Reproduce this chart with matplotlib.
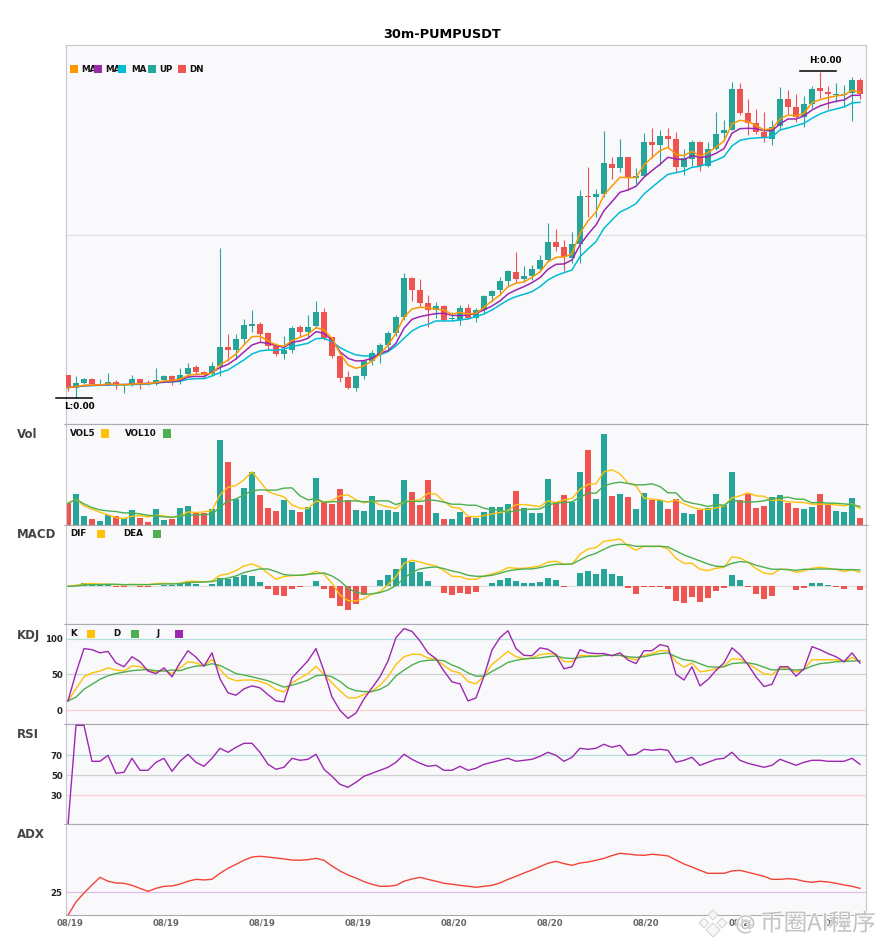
import matplotlib
matplotlib.use('Agg')
import matplotlib.pyplot as plt
import matplotlib.patheffects as pe
from matplotlib.lines import Line2D
from matplotlib.patches import Rectangle, Polygon
from matplotlib.transforms import ScaledTranslation
import numpy as np

W, H = 885, 950

opens = [147,109,123,135,117,120,126,117,120,135,
         122,120,132,144,132,150,171,156,150,174,
         231,222,255,294,300,273,234,210,222,291,
         276,294,336,261,204,141,108,144,189,210,
         237,273,321,438,402,363,342,354,315,312,
         348,318,342,384,402,429,456,435,444,465,
         492,546,531,498,540,684,681,690,780,768,
         801,738,744,846,837,864,855,771,795,846,
         774,825,873,882,1005,933,903,876,855,894,
         975,951,921,960,1008,996,987,987,993,1032]
closes = [109,123,135,120,120,126,118,120,135,120,
          119,132,144,129,147,168,156,147,174,231,
          222,255,297,300,270,234,210,222,288,276,
          291,336,258,204,138,108,144,189,213,237,
          273,321,438,402,363,342,354,312,318,348,
          318,342,384,399,429,459,435,444,465,492,
          546,531,501,540,684,681,690,783,768,801,
          738,744,846,837,864,855,771,798,846,774,
          825,870,882,1005,933,903,876,858,891,975,
          951,921,960,1005,999,990,990,990,1032,990]
highs = [147,144,138,138,135,153,132,123,147,135,
         132,168,147,147,168,183,177,159,186,528,
         270,270,315,342,306,276,243,264,294,297,
         327,369,348,261,204,159,147,192,222,243,
         279,327,453,441,435,387,366,357,336,357,
         360,348,387,402,441,462,516,474,477,507,
         602,585,552,576,702,771,705,879,801,855,
         801,768,873,888,882,888,876,825,852,849,
         846,936,912,1026,1023,975,945,936,912,1011,
         1002,990,984,1014,1056,1014,1023,1017,1041,1038]
lows = [100,78,120,117,117,117,106,93,114,106,
        116,117,129,117,120,144,149,141,144,144,
        189,195,243,276,246,222,204,195,213,261,
        261,288,252,198,126,105,99,135,177,183,
        222,264,312,369,354,291,318,309,309,297,
        315,306,330,366,387,411,423,426,432,459,
        486,519,459,483,483,621,621,681,735,756,
        702,720,744,798,777,828,756,747,774,759,
        771,822,849,882,927,867,870,846,837,882,
        930,906,891,948,978,945,966,951,909,975]
ma5 = [109,112,116,117,117,120,119,117,120,121,
       121,124,129,130,134,146,149,150,152,177,
       192,210,237,262,263,250,237,233,250,260,
       269,289,282,257,212,177,167,174,189,209,
       237,272,320,345,350,349,344,342,329,335,
       330,332,350,369,387,412,422,426,440,456,
       487,500,501,510,572,609,636,687,714,740,
       739,739,777,799,820,830,809,805,818,804,
       814,830,849,900,911,907,896,882,886,915,
       927,924,932,964,973,979,984,987,1001,995]
ma10 = [109,112,115,116,117,118,119,118,120,121,
        122,123,126,127,130,141,143,142,155,169,
        179,195,216,237,245,242,235,230,245,249,
        257,277,272,252,217,197,189,190,197,212,
        220,242,287,314,322,327,331,332,326,325,
        327,332,342,354,369,390,402,412,424,439,
        464,479,480,492,537,569,597,640,667,695,
        702,713,740,760,779,800,795,793,805,800,
        802,812,826,872,886,887,886,880,880,900,
        915,915,924,942,954,962,968,972,986,986]
ma20 = [109,112,114,115,116,117,117,117,118,119,
        119,123,125,126,128,134,136,136,144,154,
        162,177,192,210,219,222,221,225,232,237,
        242,256,257,247,229,217,207,204,204,207,
        217,234,257,279,292,299,309,309,309,312,
        315,322,330,342,357,372,382,389,397,412,
        432,445,454,462,502,525,547,587,612,636,
        647,661,690,710,730,749,754,759,770,773,
        782,791,802,834,851,856,858,859,861,882,
        888,895,902,917,930,939,945,951,963,965]

volume = [65,92,26,17,11,29,26,20,44,20,
          8,47,14,17,50,56,38,35,47,254,
          188,77,110,158,89,50,41,74,44,38,
          53,140,68,62,107,74,44,41,86,44,
          44,38,134,98,59,134,35,17,17,38,
          23,20,38,53,53,62,101,50,35,35,
          137,68,89,68,158,224,77,272,86,92,
          83,47,95,74,74,47,77,35,32,44,
          50,92,59,158,74,92,50,56,83,89,
          65,50,47,53,92,59,41,38,80,20]
vol5 = [64,76,56,46,37,29,21,18,25,27,
        23,28,26,21,26,38,36,38,42,89,
        112,117,134,158,129,99,90,83,59,49,
        48,70,68,71,86,89,74,65,71,59,
        53,48,69,71,74,94,91,69,52,49,
        25,23,27,32,36,42,60,60,57,54,
        71,66,74,78,106,120,122,158,164,152,
        124,116,79,76,74,67,74,62,52,46,
        45,50,56,80,86,95,86,85,72,74,
        68,67,66,61,61,61,59,56,62,48]
vol10 = [64,76,62,51,44,41,39,35,35,32,
         28,26,23,22,26,28,29,30,31,52,
         71,77,89,101,104,103,103,109,110,86,
         74,78,67,68,69,71,71,68,70,71,
         71,60,68,70,69,74,72,67,61,61,
         58,58,49,44,44,36,42,45,46,47,
         59,64,66,68,82,94,94,116,123,127,
         123,119,119,122,114,95,95,71,64,60,
         54,60,58,74,68,68,68,71,77,80,
         82,76,76,65,67,64,64,62,60,54]

macd_hist = [0,0,10,3,3,3,-3,-3,0,-3,
             -3,2,3,3,6,12,7,1,7,24,
             22,28,34,31,13,-8,-26,-29,-8,-3,
             0,16,-8,-35,-59,-71,-53,-26,0,18,
             34,52,85,73,43,16,0,-20,-26,-20,
             -23,-17,0,9,19,25,16,10,9,13,
             25,19,-2,0,40,46,37,52,37,31,
             -5,-23,-3,-3,-3,-8,-44,-50,-32,-47,
             -35,-14,-5,34,19,-2,-23,-38,-29,0,
             0,-11,-5,10,10,3,-2,-8,0,-11]
dif = [0,3,7,8,7,6,5,4,6,5,
       5,8,9,8,9,15,15,13,16,33,
       37,47,61,67,58,39,21,29,32,33,
       35,45,36,9,-26,-43,-44,-37,-23,-16,
       4,29,69,78,73,66,61,47,30,29,
       21,21,31,37,44,56,54,54,57,61,
       73,75,66,66,96,112,116,135,138,142,
       121,108,120,119,120,112,84,69,69,51,
       47,54,57,88,85,72,53,40,36,51,
       51,42,46,54,57,54,51,44,50,42]
dea = [0,1,4,5,5,6,6,5,5,5,
       5,6,7,7,8,11,12,13,14,20,
       25,31,41,47,52,52,44,35,33,33,
       36,38,40,31,16,-6,-18,-23,-23,-19,
       -11,2,24,42,52,56,58,53,46,41,
       33,30,30,33,39,46,50,52,52,56,
       62,66,66,67,79,91,99,111,122,126,
       125,120,120,120,120,118,106,94,85,76,
       67,60,59,69,74,72,63,57,51,51,
       50,48,51,51,52,52,51,50,50,49]

kdj_k = [12.7,29.6,46.5,52,54.5,59,56,54.5,62,60.6,
         56,53,56,50.7,59,67.6,66,61.5,71,56.8,
         45,41,42,42,40,36,28.6,25.4,38,44.6,
         51,61,49.8,38,26.8,17,17,21.6,26.3,34.7,
         46.5,63.8,74.6,78,78,72.8,71,62.4,54.5,52,
         40,36.6,47.4,63.8,73,82,74.6,71.8,72.8,77.5,
         79,78,68,67.6,76.5,76,75.6,76.5,76.5,76.5,
         72.8,70.4,76.5,79,83,83,67.6,60,66,53.5,
         55,57.7,61.5,71.8,71,65,57.7,50.7,49.3,59,
         59,53,56.8,70.4,70.4,70.4,70.4,67.6,73.7,67.6]
kdj_d = [12.7,18,29,36,43,48,51,53,55,56,
         56.8,55,54.5,56,55,58.7,61.5,62,64.8,62.4,
         56.8,51,49,46.5,43.7,41,36.6,32,34.7,38,
         41.8,48,49,46.5,40,31,27,25.8,25.8,29,
         35,47.8,55.8,63,68,69.5,70,69,63,58.7,
         52,47.4,47.4,54,60,66.7,69.5,71.4,72.3,73,
         74.6,75.6,73,72,73.7,75,75,76.5,76.5,76.5,
         74.6,73.7,74.6,77,79,80,74.6,70.4,69,64.8,
         60.6,60,60.6,65,66,66,64,60,56,56.8,
         57,56,56.8,61.5,65,66,67.6,68,68.5,69]
kdj_j = [12.7,52,86,84.5,80,82,66,60.6,74.6,67.6,
         54.5,51,59,46.5,66,83,74,61.5,80,43.7,
         24,20.7,29.6,33.8,31,21.6,12.7,11.3,45,57,
         69,86,54.5,18.3,-0.5,-11.7,-4.2,15.5,31,46.5,
         68.5,101.4,114,110,96.7,80,71.8,54.5,39.4,36.6,
         12.7,16.9,47.4,84,101.4,111,86,76.5,76,87,
         85,77.5,57.7,60.6,84.5,80,79,79,76,80,
         70,65,83,83,91.5,89,50,42,60.6,33.8,
         42.7,55.4,66,87,77.5,63.4,46.5,33,36,60.6,
         60.6,47.4,57.7,88.7,84.5,79,74.6,67.6,80,65.7]

rsi = [0,100,100,64,64,70,52,53,67,55,
       55,63,67,54,64,71,63,59,67,77,
       73,78,82,82,73,61,56,58,67,65,
       66,71,56,49,41,38,43,49,52,55,
       58,63,71,66,62,59,60,55,55,59,
       55,57,61,63,65,67,64,65,66,69,
       73,70,64,68,77,76,77,81,78,80,
       70,71,76,75,76,75,63,65,68,60,
       63,66,67,73,65,62,60,58,60,66,
       63,60,63,65,65,64,64,64,67,61]
adx = [5.8,16.9,24.4,31.1,37.5,34.2,32.8,32.5,30.8,28.3,
       25.8,28.3,30,30.3,31.9,34.2,35.8,35.3,35.8,40.8,
       45,48.3,51.7,54.4,55,54.4,53.6,52.8,51.9,51.7,
       52.2,53.3,51.7,46.9,42.8,39.4,36.9,33.9,31.7,30,
       30,30.8,34.2,36.1,37.5,35.8,34.2,32.5,31.7,30.8,
       30,29.2,30,30.8,32.8,35.8,38.3,41.1,43.6,46.4,
       49.2,50.8,48.9,47.5,49.4,50.3,51.7,53.3,55.6,57.5,
       56.9,56.1,55.8,56.7,56.1,55.3,51.9,48.6,46.1,43.3,
       40.8,40.8,40.8,42.8,43.3,41.7,40,38.3,35.8,35.8,
       36.4,35.8,34.2,33.3,34.2,33.6,32.5,31.1,30,28.3]

date_ticks = [0, 12, 24, 36, 48, 60, 72, 84, 96]
date_labels = ['08/19', '08/19', '08/19', '08/19', '08/20', '08/20', '08/20', '08/20', '08/21']

GREEN = '#26a69a'
RED = '#ef5350'
ORANGE = '#ff9800'
PURPLE = '#9c27b0'
CYAN = '#00bcd4'
YELLOW = '#ffc107'
LGREEN = '#4caf50'
PANEL = '#f9f9fc'

x = np.arange(len(closes))
up = np.array(closes) >= np.array(opens)
candle_colors = np.where(up, GREEN, RED)

fig = plt.figure(figsize=(W / 100, H / 100), dpi=100)


def px(xp, yp):
    return xp / W, 1 - yp / H


def panel(top, bottom, ylim):
    ax = fig.add_axes([65.5 / W, 1 - bottom / H, 800 / W, (bottom - top) / H])
    ax.set_facecolor(PANEL)
    ax.set_xlim(-0.31, 99.69)
    ax.set_ylim(*ylim)
    ax.set_xticks([])
    ax.set_yticks([])
    ax.tick_params(length=0, pad=2)
    for side in ['left', 'right']:
        ax.spines[side].set_color('#c6c6d0')
    ax.spines['top'].set_color('#aaaab2')
    ax.spines['bottom'].set_color('#aaaab2')
    return ax


def legend(items, yc):
    # label x, square x pairs in pixels
    for name, xt, xs, col in items:
        fig.text(*px(xt, yc), name, fontsize=6.3, fontweight='bold', va='center', color='#111111', zorder=5)
        fig.add_artist(Rectangle(px(xs, yc + 4), 8 / W, 8 / H, transform=fig.transFigure,
                                 facecolor=col, edgecolor='none', zorder=6))


def bold_ticks(ax, ticks):
    ax.set_yticks(ticks)
    ax.set_yticklabels([str(t) for t in ticks], fontsize=6.2, fontweight='bold', color='#222222')


# main candles
ax = panel(45.3, 424.3, (-1, 1136))
ax.axhline(566, color='#e2e2e4', lw=0.9, zorder=1)
ax.vlines(x, lows, highs, colors=candle_colors, lw=0.8, zorder=2)
ax.bar(x, np.abs(np.array(closes) - np.array(opens)), bottom=np.minimum(opens, closes), width=0.75,
       color=candle_colors, zorder=3)
ax.plot(x, ma20, color=CYAN, lw=1.1, zorder=4)
ax.plot(x, ma10, color=PURPLE, lw=1.1, zorder=5)
ax.plot(x, ma5, color=ORANGE, lw=1.1, zorder=6)
ax.spines['top'].set_color('#c6c6d0')
ax.plot([91.5, 96], [1059, 1059], color='black', lw=1.1, clip_on=False, zorder=7)
ax.plot([-1.5, 3], [77, 77], color='black', lw=1.1, clip_on=False, zorder=7)
ax.annotate('H:0.00', (94, 1059), xytext=(5, 5.5), textcoords='offset pixels', ha='center', va='bottom',
            fontsize=6.4, fontweight='bold')
ax.annotate('L:0.00', (1, 77), xytext=(3.5, -4), textcoords='offset pixels', ha='center', va='top',
            fontsize=6.4, fontweight='bold', annotation_clip=False)
fig.text(*px(442.5, 34), '30m-PUMPUSDT', fontsize=9.3, fontweight='bold', ha='center', va='center')
legend([('MA', 81, 70, ORANGE), ('MA', 105, 94, PURPLE), ('MA', 131, 118, CYAN),
        ('UP', 159, 148, GREEN), ('DN', 189, 178, RED)], 69)

# volume
ax = panel(424.3, 524.6, (0, 300))
ax.bar(x, volume, width=0.75, color=candle_colors, zorder=2)
ax.plot(x, vol5, color=YELLOW, lw=1.0, zorder=3)
ax.plot(x, vol10, color=LGREEN, lw=1.0, zorder=3)
legend([('VOL5', 70, 101, YELLOW), ('VOL10', 125, 163, LGREEN)], 433.5)

# macd
ax = panel(524.6, 624.3, (-114, 185))
ax.axhline(0, color='#dddddd', lw=0.9, zorder=1)
hist_colors = [GREEN if v >= 0 else RED for v in macd_hist]
ax.bar(x, macd_hist, width=0.75, color=hist_colors, zorder=2)
ax.plot(x, dif, color=YELLOW, lw=1.0, zorder=3)
ax.plot(x, dea, color=LGREEN, lw=1.0, zorder=3)
legend([('DIF', 70, 97, YELLOW), ('DEA', 123, 153, LGREEN)], 533.5)

# kdj
ax = panel(624.3, 724.3, (-20, 120))
ax.axhline(100, color='#b2dfdb', lw=0.9, zorder=1)
ax.axhline(50, color='#d0d0d0', lw=0.9, zorder=1)
ax.axhline(0, color='#ffcdd2', lw=0.9, zorder=1)
ax.plot(x, kdj_k, color=YELLOW, lw=1.0, zorder=3)
ax.plot(x, kdj_d, color=LGREEN, lw=1.0, zorder=3)
ax.plot(x, kdj_j, color=PURPLE, lw=1.0, zorder=4)
bold_ticks(ax, [0, 50, 100])
legend([('K', 70, 87, YELLOW), ('D', 113, 131, LGREEN), ('J', 157, 175, PURPLE)], 633.5)

# rsi
ax = panel(724.3, 824.3, (1, 101))
ax.axhline(70, color='#b2dfdb', lw=0.9, zorder=1)
ax.axhline(50, color='#d0d0d0', lw=0.9, zorder=1)
ax.axhline(30, color='#ffcdd2', lw=0.9, zorder=1)
ax.plot(x, rsi, color=PURPLE, lw=1.0, zorder=3)
bold_ticks(ax, [30, 50, 70])

# adx
ax = panel(824.3, 915.3, (5.83, 81.67))
ax.axhline(25, color='#e1bee7', lw=0.9, zorder=1)
ax.plot(x, adx, color='#f44336', lw=1.0, zorder=3)
bold_ticks(ax, [25])
ax.set_xticks(date_ticks)
ax.set_xticklabels(date_labels, fontsize=6.1, fontweight='bold', color='#666666')
for lab in ax.get_xticklabels():
    lab.set_transform(lab.get_transform() + ScaledTranslation(2 / 100, 0, fig.dpi_scale_trans))

for name, yp in [('Vol', 434.5), ('MACD', 534.5), ('KDJ', 635), ('RSI', 735), ('ADX', 835)]:
    fig.text(*px(17, yp), name, fontsize=8.5, fontweight='bold', color='#444444', va='center')

# little marks where the panels meet
for yp in [424.3, 524.6, 624.3, 724.3, 824.3]:
    for x0, x1 in [(63.5, 65.5), (865.5, 867.5)]:
        fig.add_artist(Line2D([x0 / W, x1 / W], [1 - yp / H, 1 - yp / H], color='#b0b0b8', lw=0.7))

# watermark
halo = [pe.withStroke(linewidth=1.6, foreground='white', alpha=0.8)]
for cx, cy, r in [(713, 915, 5), (704, 923, 5), (722, 923, 5), (713, 930, 7)]:
    fig.add_artist(Polygon([px(cx - r, cy), px(cx, cy - r), px(cx + r, cy), px(cx, cy + r)], closed=True,
                           transform=fig.transFigure, facecolor='#f6f6f6', edgecolor='#d6d6d6', lw=0.8, zorder=8))
fig.text(*px(735, 924), '@', fontsize=15, color='#c4c4c4', va='center', zorder=8, path_effects=halo)
fig.text(*px(760, 924), '币圈AI程序', fontsize=17, color='#c4c4c4', va='center', zorder=8,
         family=['Noto Sans CJK SC', 'DejaVu Sans'], path_effects=halo)

fig.savefig('out.png', dpi=100)
